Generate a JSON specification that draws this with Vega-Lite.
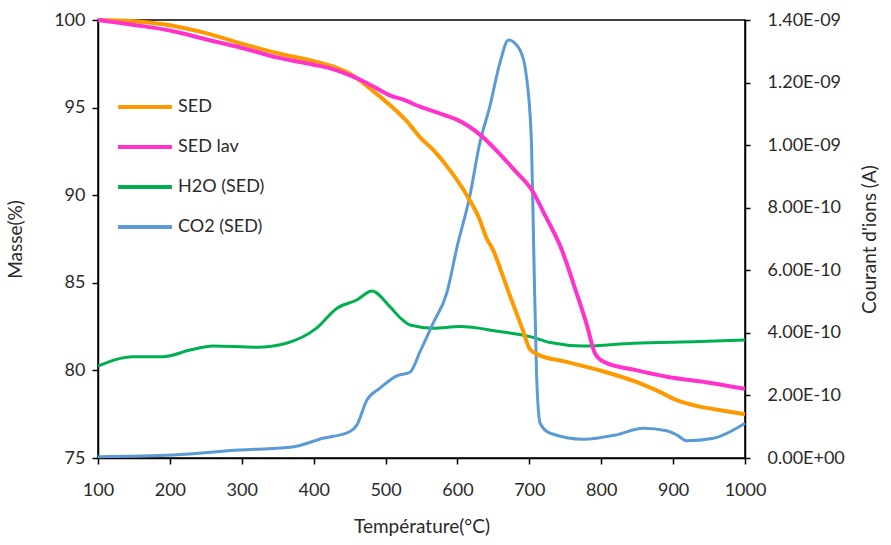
{
  "$schema": "https://vega.github.io/schema/vega-lite/v6.json",
  "width": 647,
  "height": 438,
  "autosize": {"type": "none"},
  "padding": {"left": 98, "top": 20, "right": 146, "bottom": 87},
  "background": "white",
  "config": {
    "font": "Lato",
    "view": {"stroke": "black", "strokeWidth": 1.5},
    "axis": {"grid": false, "domainColor": "black", "domainWidth": 1.5, "tickColor": "black", "tickWidth": 1.5, "labelFontSize": 18, "labelColor": "#2a2a2a", "titleFontSize": 19, "titleFontWeight": "normal", "titleColor": "#2a2a2a", "labelFont": "Lato", "titleFont": "Lato"}
  },
  "datasets": {
    "mass": [
      {"T": 100, "v": 100.0, "s": "SED"},
      {"T": 150, "v": 99.93, "s": "SED"},
      {"T": 200, "v": 99.7, "s": "SED"},
      {"T": 250, "v": 99.25, "s": "SED"},
      {"T": 300, "v": 98.65, "s": "SED"},
      {"T": 350, "v": 98.1, "s": "SED"},
      {"T": 400, "v": 97.65, "s": "SED"},
      {"T": 423, "v": 97.4, "s": "SED"},
      {"T": 450, "v": 96.95, "s": "SED"},
      {"T": 469, "v": 96.4, "s": "SED"},
      {"T": 490, "v": 95.7, "s": "SED"},
      {"T": 510, "v": 95.0, "s": "SED"},
      {"T": 530, "v": 94.2, "s": "SED"},
      {"T": 548, "v": 93.3, "s": "SED"},
      {"T": 566, "v": 92.6, "s": "SED"},
      {"T": 590, "v": 91.4, "s": "SED"},
      {"T": 613, "v": 90.0, "s": "SED"},
      {"T": 630, "v": 88.7, "s": "SED"},
      {"T": 641, "v": 87.5, "s": "SED"},
      {"T": 648, "v": 87.0, "s": "SED"},
      {"T": 670, "v": 84.6, "s": "SED"},
      {"T": 690, "v": 82.4, "s": "SED"},
      {"T": 701, "v": 81.2, "s": "SED"},
      {"T": 712, "v": 80.9, "s": "SED"},
      {"T": 750, "v": 80.5, "s": "SED"},
      {"T": 798, "v": 80.0, "s": "SED"},
      {"T": 854, "v": 79.26, "s": "SED"},
      {"T": 880, "v": 78.8, "s": "SED"},
      {"T": 905, "v": 78.3, "s": "SED"},
      {"T": 937, "v": 77.93, "s": "SED"},
      {"T": 970, "v": 77.7, "s": "SED"},
      {"T": 1000, "v": 77.5, "s": "SED"},
      {"T": 100, "v": 100.0, "s": "SED lav"},
      {"T": 150, "v": 99.72, "s": "SED lav"},
      {"T": 200, "v": 99.4, "s": "SED lav"},
      {"T": 250, "v": 98.9, "s": "SED lav"},
      {"T": 311, "v": 98.29, "s": "SED lav"},
      {"T": 350, "v": 97.85, "s": "SED lav"},
      {"T": 400, "v": 97.45, "s": "SED lav"},
      {"T": 423, "v": 97.24, "s": "SED lav"},
      {"T": 450, "v": 96.85, "s": "SED lav"},
      {"T": 469, "v": 96.5, "s": "SED lav"},
      {"T": 490, "v": 96.05, "s": "SED lav"},
      {"T": 506, "v": 95.7, "s": "SED lav"},
      {"T": 525, "v": 95.45, "s": "SED lav"},
      {"T": 548, "v": 95.05, "s": "SED lav"},
      {"T": 580, "v": 94.6, "s": "SED lav"},
      {"T": 600, "v": 94.3, "s": "SED lav"},
      {"T": 633, "v": 93.4, "s": "SED lav"},
      {"T": 660, "v": 92.3, "s": "SED lav"},
      {"T": 680, "v": 91.4, "s": "SED lav"},
      {"T": 705, "v": 90.2, "s": "SED lav"},
      {"T": 720, "v": 89.0, "s": "SED lav"},
      {"T": 745, "v": 86.9, "s": "SED lav"},
      {"T": 765, "v": 84.5, "s": "SED lav"},
      {"T": 780, "v": 82.6, "s": "SED lav"},
      {"T": 791, "v": 81.0, "s": "SED lav"},
      {"T": 803, "v": 80.5, "s": "SED lav"},
      {"T": 850, "v": 80.0, "s": "SED lav"},
      {"T": 891, "v": 79.64, "s": "SED lav"},
      {"T": 950, "v": 79.3, "s": "SED lav"},
      {"T": 1000, "v": 78.95, "s": "SED lav"}
    ],
    "ion": [
      {"T": 100, "i": 2.94e-10, "s": "H2O (SED)"},
      {"T": 149, "i": 3.24e-10, "s": "H2O (SED)"},
      {"T": 191, "i": 3.24e-10, "s": "H2O (SED)"},
      {"T": 228, "i": 3.45e-10, "s": "H2O (SED)"},
      {"T": 260, "i": 3.58e-10, "s": "H2O (SED)"},
      {"T": 321, "i": 3.54e-10, "s": "H2O (SED)"},
      {"T": 362, "i": 3.67e-10, "s": "H2O (SED)"},
      {"T": 404, "i": 4.15e-10, "s": "H2O (SED)"},
      {"T": 432, "i": 4.78e-10, "s": "H2O (SED)"},
      {"T": 460, "i": 5.05e-10, "s": "H2O (SED)"},
      {"T": 481, "i": 5.34e-10, "s": "H2O (SED)"},
      {"T": 506, "i": 4.84e-10, "s": "H2O (SED)"},
      {"T": 522, "i": 4.45e-10, "s": "H2O (SED)"},
      {"T": 534, "i": 4.25e-10, "s": "H2O (SED)"},
      {"T": 566, "i": 4.15e-10, "s": "H2O (SED)"},
      {"T": 603, "i": 4.2e-10, "s": "H2O (SED)"},
      {"T": 659, "i": 4.04e-10, "s": "H2O (SED)"},
      {"T": 701, "i": 3.88e-10, "s": "H2O (SED)"},
      {"T": 729, "i": 3.69e-10, "s": "H2O (SED)"},
      {"T": 775, "i": 3.58e-10, "s": "H2O (SED)"},
      {"T": 845, "i": 3.67e-10, "s": "H2O (SED)"},
      {"T": 937, "i": 3.72e-10, "s": "H2O (SED)"},
      {"T": 1000, "i": 3.77e-10, "s": "H2O (SED)"},
      {"T": 100, "i": 4.2e-12, "s": "CO2 (SED)"},
      {"T": 205, "i": 9.6e-12, "s": "CO2 (SED)"},
      {"T": 297, "i": 2.56e-11, "s": "CO2 (SED)"},
      {"T": 367, "i": 3.4e-11, "s": "CO2 (SED)"},
      {"T": 413, "i": 6.3e-11, "s": "CO2 (SED)"},
      {"T": 450, "i": 8.4e-11, "s": "CO2 (SED)"},
      {"T": 460, "i": 1.05e-10, "s": "CO2 (SED)"},
      {"T": 474, "i": 1.85e-10, "s": "CO2 (SED)"},
      {"T": 492, "i": 2.23e-10, "s": "CO2 (SED)"},
      {"T": 515, "i": 2.62e-10, "s": "CO2 (SED)"},
      {"T": 534, "i": 2.74e-10, "s": "CO2 (SED)"},
      {"T": 548, "i": 3.4e-10, "s": "CO2 (SED)"},
      {"T": 566, "i": 4.3e-10, "s": "CO2 (SED)"},
      {"T": 585, "i": 5.26e-10, "s": "CO2 (SED)"},
      {"T": 600, "i": 6.8e-10, "s": "CO2 (SED)"},
      {"T": 617, "i": 8.35e-10, "s": "CO2 (SED)"},
      {"T": 631, "i": 1.006e-9, "s": "CO2 (SED)"},
      {"T": 645, "i": 1.123e-9, "s": "CO2 (SED)"},
      {"T": 659, "i": 1.262e-9, "s": "CO2 (SED)"},
      {"T": 671, "i": 1.336e-9, "s": "CO2 (SED)"},
      {"T": 687, "i": 1.304e-9, "s": "CO2 (SED)"},
      {"T": 696, "i": 1.219e-9, "s": "CO2 (SED)"},
      {"T": 703, "i": 1.006e-9, "s": "CO2 (SED)"},
      {"T": 706, "i": 6.8e-10, "s": "CO2 (SED)"},
      {"T": 710, "i": 2.71e-10, "s": "CO2 (SED)"},
      {"T": 715, "i": 1.11e-10, "s": "CO2 (SED)"},
      {"T": 729, "i": 7.9e-11, "s": "CO2 (SED)"},
      {"T": 775, "i": 6.0e-11, "s": "CO2 (SED)"},
      {"T": 821, "i": 7.4e-11, "s": "CO2 (SED)"},
      {"T": 858, "i": 9.5e-11, "s": "CO2 (SED)"},
      {"T": 891, "i": 8.7e-11, "s": "CO2 (SED)"},
      {"T": 905, "i": 7.4e-11, "s": "CO2 (SED)"},
      {"T": 919, "i": 5.5e-11, "s": "CO2 (SED)"},
      {"T": 956, "i": 6.3e-11, "s": "CO2 (SED)"},
      {"T": 1000, "i": 1.11e-10, "s": "CO2 (SED)"}
    ]
  },
  "encoding": {
    "x": {"field": "T", "type": "quantitative", "title": "Température(°C)", "scale": {"domain": [100, 1000], "nice": false}, "axis": {"values": [100, 200, 300, 400, 500, 600, 700, 800, 900, 1000], "format": "d", "tickSize": 6, "labelPadding": 17, "titleY": 59, "labelFlush": false}},
    "color": {"field": "s", "type": "nominal", "scale": {"domain": ["SED", "SED lav", "H2O (SED)", "CO2 (SED)"], "range": ["#FF9900", "#FF33CC", "#00B050", "#5B9BD5"]}, "legend": {"title": null, "orient": "none", "legendX": 18, "legendY": 58, "symbolType": "stroke", "symbolStrokeWidth": 4, "symbolSize": 2900, "labelFontSize": 18, "labelColor": "#2a2a2a", "rowPadding": 2, "labelOffset": 4}}
  },
  "layer": [
    {
      "data": {"name": "ion"},
      "mark": {"type": "line", "interpolate": "monotone", "strokeWidth": 3},
      "encoding": {
        "y": {"field": "i", "type": "quantitative", "title": "Courant d'ions (A)", "scale": {"domain": [0, 1.4e-9], "nice": false}, "axis": {"orient": "right", "values": [0, 2e-10, 4e-10, 6e-10, 8e-10, 1e-9, 1.2e-9, 1.4e-9], "tickSize": 5, "labelPadding": 17, "titleAngle": 270, "titleX": 134, "labelExpr": "datum.value == 0 ? '0.00E+00' : (datum.value >= 9.9e-10 ? format(datum.value / 1e-9, '.2f') + 'E-09' : format(datum.value / 1e-10, '.2f') + 'E-10')"}}
      }
    },
    {
      "data": {"name": "mass"},
      "mark": {"type": "line", "interpolate": "monotone", "strokeWidth": 4},
      "encoding": {
        "y": {"field": "v", "type": "quantitative", "title": "Masse(%)", "scale": {"domain": [75, 100], "nice": false}, "axis": {"orient": "left", "values": [75, 80, 85, 90, 95, 100], "tickSize": 6, "labelPadding": 7, "titleX": -73}}
      }
    }
  ],
  "resolve": {"scale": {"y": "independent"}}
}
